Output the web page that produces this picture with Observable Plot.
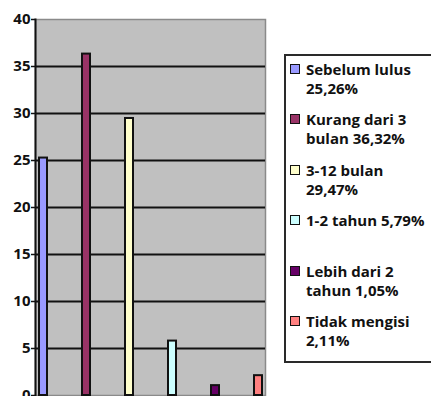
<!DOCTYPE html>
<html>
<head>
<meta charset="utf-8">
<script src="https://cdn.jsdelivr.net/npm/d3@7"></script>
<script src="https://cdn.jsdelivr.net/npm/@observablehq/plot@0.6"></script>
<style>
  html, body { margin: 0; padding: 0; background: #fff; }
  #wrap { position: relative; width: 431px; height: 396px; overflow: hidden; font-family: "Open Sans", sans-serif; }
  #chart { position: absolute; left: 0; top: 0; }
  #legend { position: absolute; left: 284px; top: 54px; width: 146px; height: 305px; border: 2px solid #2a2a2a; border-right: none; box-sizing: content-box; }
  .item { position: absolute; left: 0; height: 50px; }
  .sw { position: absolute; left: 4px; top: 4px; width: 8px; height: 8px; border: 1.5px solid #111; }
  .txt { position: absolute; left: 20px; top: 0; font-weight: 700; font-size: 15px; line-height: 19px; white-space: nowrap; color: #111; }
</style>
</head>
<body>
<div id="wrap">
  <div id="chart"></div>
  <div id="legend"></div>
</div>
<script>
const categories = ["Sebelum lulus", "Kurang dari 3 bulan", "3-12 bulan", "1-2 tahun", "Lebih dari 2 tahun", "Tidak mengisi"];
const values = [25.26, 36.32, 29.47, 5.79, 1.05, 2.11];
const colors = ["#9999ff", "#993366", "#ffffcc", "#ccffff", "#660066", "#ff8080"];
const legendLines = [
  ["Sebelum lulus", "25,26%"],
  ["Kurang dari 3", "bulan 36,32%"],
  ["3-12 bulan", "29,47%"],
  ["1-2 tahun 5,79%"],
  ["Lebih dari 2", "tahun 1,05%"],
  ["Tidak mengisi", "2,11%"]
];
const yTicks = [0, 5, 10, 15, 20, 25, 30, 35, 40];
const gridTicks = [5, 10, 15, 20, 25, 30, 35];

const data = categories.map((c, i) => ({cat: c, value: values[i], color: colors[i]}));

const chart = Plot.plot({
  width: 270,
  height: 396,
  marginLeft: 35,
  marginRight: 5,
  marginTop: 19,
  marginBottom: 1,
  style: {fontFamily: "Open Sans, sans-serif", fontWeight: 700, fontSize: "15px", color: "#111", background: "transparent", overflow: "visible"},
  x: {type: "band", domain: categories, paddingInner: 0.816, paddingOuter: 0.052, axis: null},
  y: {domain: [0, 40], ticks: yTicks, label: null},
  marks: [
    Plot.frame({fill: "#c0c0c0", stroke: "#8a8a8a", strokeWidth: 1.5}),
    Plot.ruleY(gridTicks, {stroke: "#111", strokeWidth: 2}),
    Plot.barY(data, {x: "cat", y: "value", fill: "color", stroke: "#111", strokeWidth: 2}),
    Plot.frame({anchor: "left", stroke: "#111", strokeWidth: 2}),
    Plot.axisY({ticks: yTicks, tickSize: 4, tickPadding: 1, label: null, stroke: "#111", strokeWidth: 1.5})
  ]
});
document.getElementById("chart").appendChild(chart);

const legend = document.getElementById("legend");
legendLines.forEach((lines, i) => {
  const item = document.createElement("div");
  item.className = "item";
  item.style.top = (3.5 + i * 50.5) + "px";
  const sw = document.createElement("div");
  sw.className = "sw";
  sw.style.background = colors[i];
  const txt = document.createElement("div");
  txt.className = "txt";
  lines.forEach((l, j) => {
    if (j) txt.appendChild(document.createElement("br"));
    txt.appendChild(document.createTextNode(l));
  });
  item.appendChild(sw);
  item.appendChild(txt);
  legend.appendChild(item);
});
</script>
</body>
</html>
